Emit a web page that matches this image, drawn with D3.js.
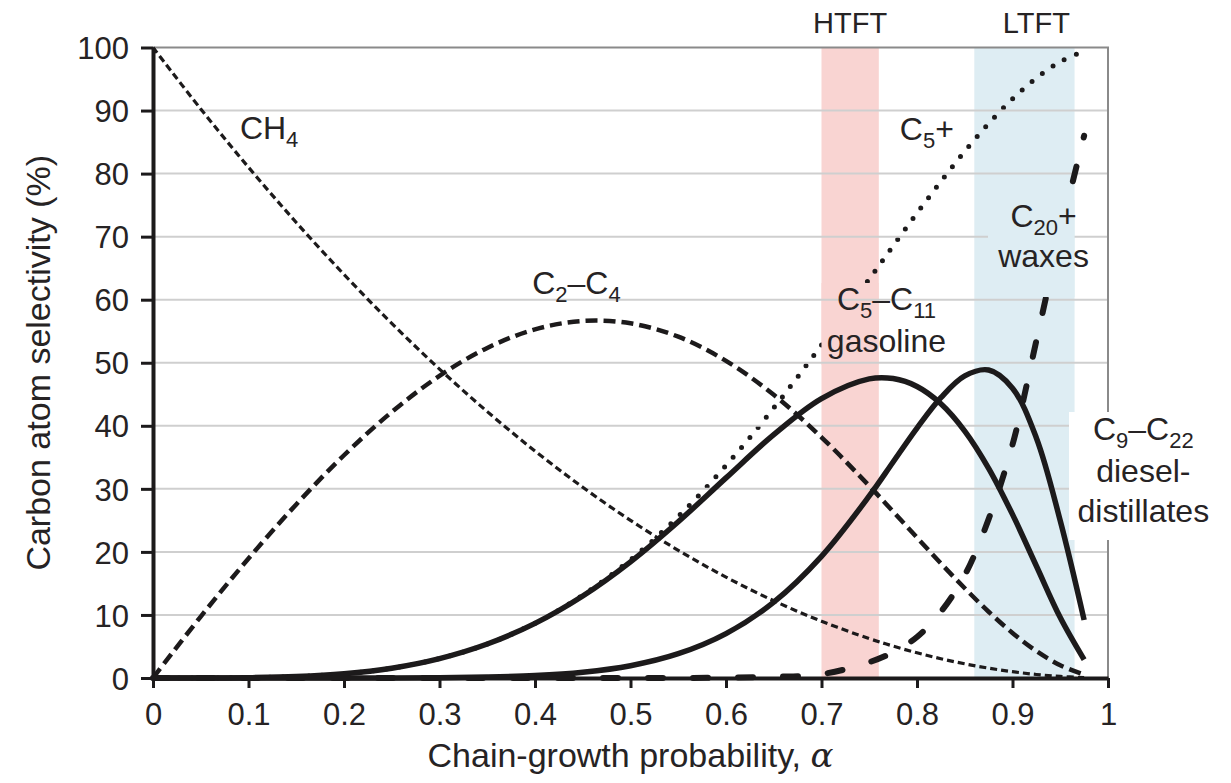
<!DOCTYPE html>
<html>
<head>
<meta charset="utf-8">
<script src="https://cdn.jsdelivr.net/npm/d3@7"></script>
<style>
  body { margin: 0; background: #fff; }
  svg { font-family: "Liberation Sans", Arial, sans-serif; }
</style>
</head>
<body>
<svg id="chart"></svg>
<script>
// chain-growth probability (x) and carbon selectivity in % (y)
const alpha    = [0,0.05,0.1,0.15,0.2,0.25,0.3,0.35,0.4,0.45,0.5,0.55,0.6,0.65,0.7,0.75,0.775,0.8,0.825,0.85,0.875,0.9,0.925,0.95,0.975];
const ch4      = [100,90.25,81,72.25,64,56.25,49,42.25,36,30.25,25,20.25,16,12.25,9,6.25,5.06,4,3.06,2.25,1.56,1,0.56,0.25,0.06];
const c2c4     = [0,9.75,18.95,27.53,35.33,42.19,47.92,52.35,55.30,56.63,56.25,54.13,50.30,44.91,38.18,30.47,26.40,22.27,18.18,14.23,10.51,7.15,4.27,2.01,0.53];
const c5plus   = [0,0,0.05,0.22,0.67,1.56,3.08,5.40,8.70,13.12,18.75,25.62,33.70,42.84,52.82,63.28,68.54,73.73,78.75,83.52,87.93,91.85,95.17,97.74,99.41];
const gasoline = [0,0,0.05,0.22,0.67,1.56,3.08,5.39,8.67,13.01,18.43,24.79,31.74,38.60,44.32,47.44,47.49,46.24,43.50,39.17,33.26,25.95,17.76,9.58,2.90];
const diesel   = [0,0,0,0,0,0.01,0.04,0.14,0.38,0.91,1.95,3.85,7.04,12.04,19.30,28.87,34.26,39.64,44.46,47.91,48.85,45.97,38.07,24.94,9.20];
const waxes    = [0,0,0,0,0,0,0,0,0,0,0,0,0.05,0.2,0.6,2.5,4.1,6.5,10.5,16.3,25.2,37.0,53.5,70.5,86.0];

// operating windows
const bandNames = ["HTFT", "LTFT"];
const bandFrom  = [0.70, 0.86];
const bandTo    = [0.76, 0.965];
const bandLabelAt = [0.73, 0.925];

const xTicks = [0,0.1,0.2,0.3,0.4,0.5,0.6,0.7,0.8,0.9,1];
const yTicks = [0,10,20,30,40,50,60,70,80,90,100];

const W = 1231, H = 783;
const margin = {top: 47.5, right: 123, bottom: 105, left: 153};
const width = W - margin.left - margin.right;
const height = H - margin.top - margin.bottom;

const pink = "#f9d4d2", blue = "#deedf3", ink = "#1c1a1b", txt = "#262324";

const svg = d3.select("#chart").attr("width", W).attr("height", H);
const g = svg.append("g").attr("transform", `translate(${margin.left},${margin.top})`);

const x = d3.scaleLinear().domain([0, 1]).range([0, width]);
const y = d3.scaleLinear().domain([0, 100]).range([height, 0]);

const line = vals => d3.line()
    .x((d, i) => x(alpha[i]))
    .y(d => y(Math.max(0, d)))
    .curve(d3.curveCatmullRom.alpha(0.5))(vals);

// bands
g.selectAll("rect.band").data(bandNames).join("rect")
    .attr("class", "band")
    .attr("x", (d, i) => x(bandFrom[i]))
    .attr("width", (d, i) => x(bandTo[i]) - x(bandFrom[i]))
    .attr("y", 0).attr("height", height)
    .attr("fill", (d, i) => i == 0 ? pink : blue);

// C5+ dotted goes under the gasoline label box
g.append("path").attr("d", line(c5plus))
    .attr("fill", "none").attr("stroke", ink)
    .attr("stroke-width", 5).attr("stroke-linecap", "round")
    .attr("stroke-dasharray", "0 13");

// gasoline label box (pink in the band, white outside)
g.append("rect").attr("x", x(0.76)).attr("y", 283 - margin.top)
    .attr("width", 76).attr("height", 82).attr("fill", "#fff");
g.append("rect").attr("x", x(0.70)).attr("y", 283 - margin.top)
    .attr("width", x(0.76) - x(0.70)).attr("height", 82).attr("fill", pink);

// gridlines
g.selectAll("line.grid").data(yTicks.slice(1, -1)).join("line")
    .attr("class", "grid")
    .attr("x1", 0).attr("x2", width)
    .attr("y1", d => y(d)).attr("y2", d => y(d))
    .attr("stroke", "#cfcfcf").attr("stroke-width", 2);

// frame top/right
g.append("path")
    .attr("d", `M0,0H${width}V${height}`)
    .attr("fill", "none").attr("stroke", "#8a8a8a").attr("stroke-width", 2);

// curves
g.append("path").attr("d", line(ch4))
    .attr("fill", "none").attr("stroke", ink)
    .attr("stroke-width", 3.2).attr("stroke-dasharray", "7 4");
g.append("path").attr("d", line(c2c4))
    .attr("fill", "none").attr("stroke", ink)
    .attr("stroke-width", 4.5).attr("stroke-dasharray", "12 6");
g.append("path").attr("d", line(gasoline))
    .attr("fill", "none").attr("stroke", ink).attr("stroke-width", 5.5);
g.append("path").attr("d", line(diesel))
    .attr("fill", "none").attr("stroke", ink).attr("stroke-width", 5.5);
g.append("path").attr("d", line(waxes))
    .attr("fill", "none").attr("stroke", ink)
    .attr("stroke-width", 6).attr("stroke-linecap", "round")
    .attr("stroke-dasharray", "15 30");

// label boxes that hide lines
g.append("rect").attr("x", 988 - margin.left).attr("y", 200 - margin.top)
    .attr("width", x(0.965) - (988 - margin.left)).attr("height", 97).attr("fill", blue);
g.append("rect").attr("x", 1069 - margin.left).attr("y", 412 - margin.top)
    .attr("width", 150).attr("height", 128).attr("fill", "#fff");

// axes
const xAxis = d3.axisBottom(x).tickValues(xTicks).tickFormat(d3.format("")).tickSize(10).tickSizeOuter(0);
const yAxis = d3.axisLeft(y).tickValues(yTicks).tickSize(12).tickSizeOuter(0);

const xg = g.append("g").attr("transform", `translate(0,${height})`).call(xAxis);
const yg = g.append("g").call(yAxis);
[xg, yg].forEach(a => {
  a.select(".domain").attr("stroke", ink).attr("stroke-width", 4);
  a.selectAll(".tick line").attr("stroke", ink).attr("stroke-width", 3);
  a.selectAll(".tick text").attr("fill", txt).attr("font-size", "31px")
      .attr("font-family", "Liberation Sans, Arial, sans-serif");
});
xg.selectAll(".tick text").attr("dy", null).attr("y", 47);
yg.selectAll(".tick text").attr("x", -24).attr("dy", "0.36em");

// axis titles
const xt = g.append("text")
    .attr("x", width / 2).attr("y", 767 - margin.top)
    .attr("text-anchor", "middle").attr("font-size", "34px").attr("fill", txt)
    .text("Chain-growth probability, ");
xt.append("tspan").attr("font-style", "italic").attr("font-family", "DejaVu Serif, serif").text("α");

g.append("text")
    .attr("transform", `translate(${50 - margin.left},${height / 2}) rotate(-90)`)
    .attr("text-anchor", "middle").attr("font-size", "34px").attr("fill", txt)
    .text("Carbon atom selectivity (%)");

// band titles
g.selectAll("text.band").data(bandNames).join("text")
    .attr("class", "band")
    .attr("x", (d, i) => x(bandLabelAt[i])).attr("y", 33 - margin.top)
    .attr("text-anchor", "middle").attr("font-size", "29px").attr("fill", txt)
    .text(d => d);

// curve labels with subscripts
function label(parts, ax, val, anchor) {
  const t = g.append("text")
      .attr("x", x(ax)).attr("y", y(val))
      .attr("text-anchor", anchor || "start")
      .attr("font-size", "32px").attr("fill", txt);
  parts.forEach(p => {
    if (p[0] == "_") {
      t.append("tspan").attr("font-size", "22px").attr("dy", 8).text(p.slice(1));
    } else {
      t.append("tspan").attr("dy", t.selectAll("tspan").size() ? -8 : 0).text(p);
    }
  });
  return t;
}

label(["CH", "_4"], 0.091, 84.2);
label(["C", "_2", "–C", "_4"], 0.397, 59.6);
label(["C", "_5", "+"], 0.782, 84.1);
label(["C", "_20", "+"], 0.9325, 70.3, "middle");
label(["waxes"], 0.9325, 63.9, "middle");
label(["C", "_5", "–C", "_11"], 0.768, 57.1, "middle");
label(["gasoline"], 0.768, 50.4, "middle");
label(["C", "_9", "–C", "_22"], 1.037, 36.5, "middle");
label(["diesel-"], 1.037, 29.8, "middle");
label(["distillates"], 1.037, 23.5, "middle");
</script>
</body>
</html>
